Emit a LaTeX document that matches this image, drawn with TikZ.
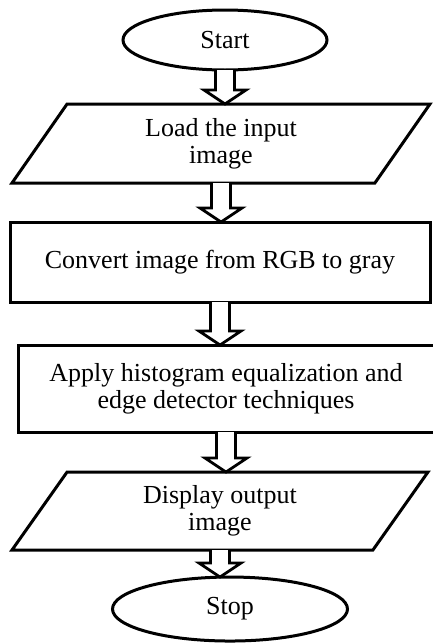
\documentclass[tikz,border=0pt]{standalone}
\usepackage{fontspec}
\setmainfont{Liberation Serif}
\usetikzlibrary{shapes.geometric, positioning, calc}
\tikzstyle{every node}=[font=\fontsize{26}{27}\selectfont]
\tikzstyle{terminal} = [ellipse, draw, line width=3pt, inner sep=0pt, outer sep=0pt]
\tikzstyle{io} = [trapezium, trapezium left angle=42.6, trapezium right angle=137.4, trapezium stretches body, draw, line width=3pt, align=center, inner sep=0pt, outer sep=0pt, minimum width=418pt, minimum height=79pt]
\tikzstyle{block} = [rectangle, draw, line width=3pt, align=center, inner sep=0pt, outer sep=0pt]
\tikzstyle{hollow} = [draw, line width=2.8pt, fill=white, line join=miter]
\newcommand{\flowarrow}[2]{%
  \path [hollow] let \p1=(#1.south), \p2=(#2.north) in
    (\x1-9.5pt,\y1) -- (\x1-9.5pt,\y2+14pt) -- (\x1-21pt,\y2+14pt) -- (\x1,\y2)
    -- (\x1+21pt,\y2+14pt) -- (\x1+9.5pt,\y2+14pt) -- (\x1+9.5pt,\y1);}

\begin{document}
\begin{tikzpicture}
    \useasboundingbox (0,0) rectangle (432pt,-643pt);
    % Place nodes
    \node [terminal, minimum width=204pt, minimum height=60pt] (start) at (225pt,-40pt) {Start};
    \node [io, below=34pt of start, xshift=-4pt] (load) {Load the input\\image};
    \node [block, minimum width=420pt, minimum height=80pt, below=39pt of load, xshift=-1pt] (gray) {Convert image from RGB to gray};
    \node [block, minimum width=416pt, minimum height=87pt, below=43pt of gray, xshift=6pt] (equalize) {Apply histogram equalization and\\edge detector techniques};
    \node [io, minimum width=416pt, minimum height=78pt, below=40pt of equalize, xshift=-6pt] (display) {Display output\\image};
    \node [terminal, minimum width=235pt, minimum height=64pt, below=27pt of display, xshift=10pt] (stop) {Stop};
    % Draw edges
    \flowarrow{start}{load}
    \flowarrow{load}{gray}
    \flowarrow{gray}{equalize}
    \flowarrow{equalize}{display}
    \flowarrow{display}{stop}
\end{tikzpicture}
\end{document}
